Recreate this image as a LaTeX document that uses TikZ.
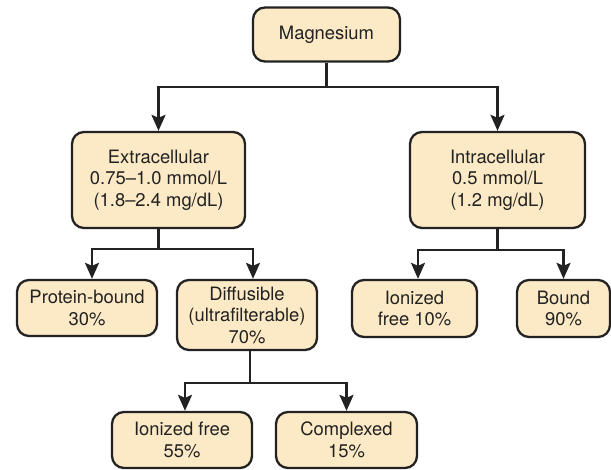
\documentclass[tikz,border=0pt]{standalone}
\usepackage{fontspec}
\setmainfont{TeX Gyre Heros}
\usepackage{xcolor}
\usetikzlibrary{positioning,arrows.meta}

\definecolor{boxfill}{HTML}{FCE9C6}
\definecolor{boxline}{HTML}{222222}

\begin{document}
\begin{tikzpicture}[x=1pt,y=1pt,
    box/.style={draw=boxline, fill=boxfill, line width=2.3pt, rounded corners=12pt,
        align=center, inner sep=0pt, text=boxline, font=\fontsize{18.4}{21.5}\selectfont},
    link/.style={draw=boxline, line width=2.2pt},
    tip/.style={link, -{Stealth[length=16pt,width=14pt,inset=3pt]}}]
    \useasboundingbox (0,0) rectangle (611,470);

    % Top level
    \node[box, minimum width=147pt, minimum height=54pt] (mg) at (326.5,435.5) {Magnesium};

    % Compartments
    \node[box, minimum width=173pt, minimum height=96pt] (extra) at (158.5,290)
        {Extracellular\\0.75--1.0 mmol/L\\(1.8--2.4 mg/dL)};
    \node[box, minimum width=175pt, minimum height=96pt] (intra) at (497.5,290)
        {Intracellular\\0.5 mmol/L\\(1.2 mg/dL)};

    % Extracellular fractions
    \node[box, minimum width=140pt, minimum height=56pt] (prot) at (87,162) {Protein-bound\\30\%};
    \node[box, minimum width=140pt, minimum height=70pt] (diff) at (247,155)
        {Diffusible\\(ultrafilterable)\\70\%};
    \node[box, minimum width=140pt, minimum height=56pt] (ionfree) at (182,30) {Ionized free\\55\%};
    \node[box, minimum width=141pt, minimum height=56pt] (cplx) at (346.5,30) {Complexed\\15\%};

    % Intracellular fractions
    \node[box, minimum width=125pt, minimum height=57pt] (ionin) at (414.5,161.5) {Ionized\\free 10\%};
    \node[box, minimum width=93pt, minimum height=57pt] (bound) at (563.5,161.5) {Bound\\90\%};

    % Branches
    \draw[tip] (mg.south) -- ++(0,-24) -| (extra.north);
    \draw[tip] (mg.south) -- ++(0,-24) -| (intra.north);
    \draw[tip] (extra.south) -- ++(0,-20) -| ([xshift=5pt]prot.north);
    \draw[tip] (extra.south) -- ++(0,-20) -| ([xshift=6pt]diff.north);
    \draw[tip] ([xshift=3pt]diff.south) -- ++(0,-32) -| ([xshift=3pt]ionfree.north);
    \draw[tip] ([xshift=3pt]diff.south) -- ++(0,-32) -| (cplx.north);
    \draw[tip] (intra.south) -- ++(0,-21) -| ([xshift=3.5pt]ionin.north);
    \draw[tip] (intra.south) -- ++(0,-21) -| (bound.north);
\end{tikzpicture}
\end{document}
